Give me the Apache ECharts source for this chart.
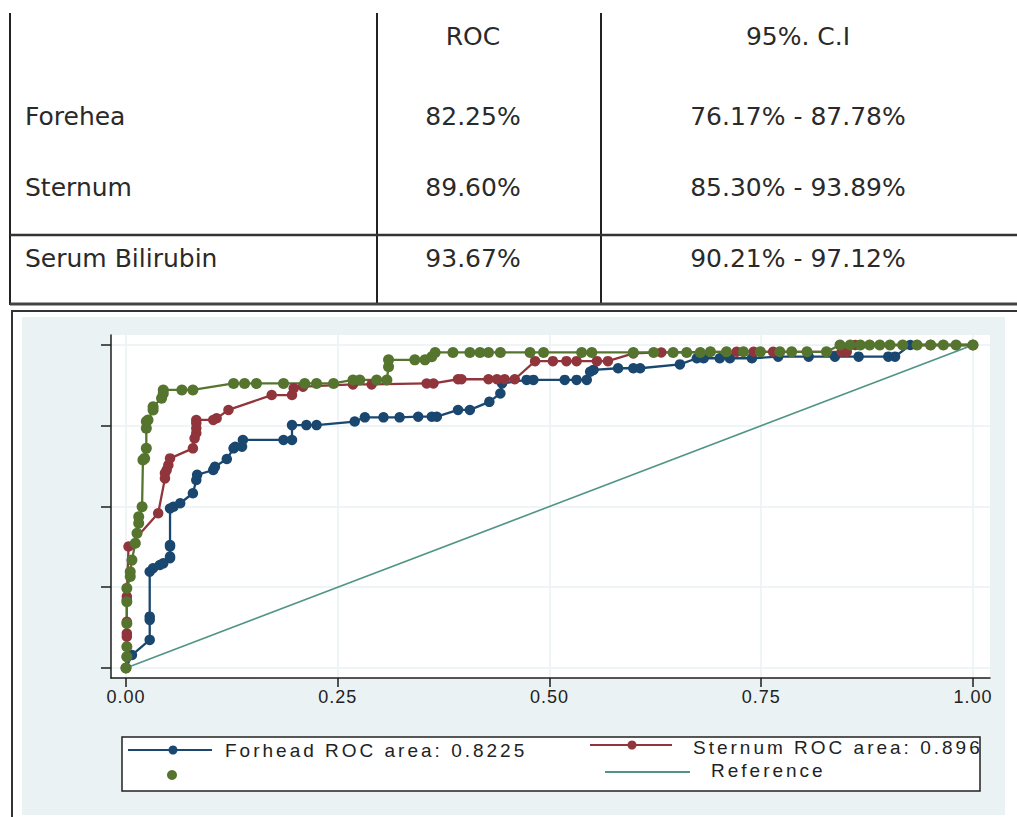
<!DOCTYPE html>
<html><head><meta charset="utf-8">
<script src="https://cdn.jsdelivr.net/npm/echarts@6/dist/echarts.min.js"></script>
<style>
html,body{margin:0;padding:0;background:#fff;}
#c{width:1017px;height:817px;}
#c text[style*="LegendF"]{letter-spacing:3px;}
#c text[style*="AxisF"]{letter-spacing:1px;}
</style></head><body><div id="c"></div>
<script>
// ---- table data ----
const tableHeaders = ['ROC', '95%. C.I'];
const tableSites = ['Forehea', 'Sternum', 'Serum Bilirubin'];
const tableRoc = ['82.25%', '89.60%', '93.67%'];
const tableCi = ['76.17% - 87.78%', '85.30% - 93.89%', '90.21% - 97.12%'];

// ---- legend labels ----
const legendForhead = 'Forhead ROC area: 0.8225';
const legendSternum = 'Sternum ROC area: 0.896';
const legendReference = 'Reference';

// ---- axis ticks ----
const xTicks = [0, 0.25, 0.5, 0.75, 1];
const yTicks = [0, 0.25, 0.5, 0.75, 1];

// ---- ROC curves [1-specificity, sensitivity] ----
const forheadPoints = [
  [0,0],[0.007,0.040],[0.028,0.087],[0.028,0.149],[0.028,0.159],[0.028,0.298],[0.032,0.309],[0.040,0.319],
  [0.044,0.324],[0.052,0.340],[0.052,0.345],[0.052,0.376],[0.052,0.381],[0.052,0.494],[0.056,0.499],[0.064,0.510],
  [0.079,0.541],[0.083,0.582],[0.084,0.598],[0.103,0.613],[0.105,0.623],[0.119,0.647],[0.127,0.680],[0.129,0.685],
  [0.137,0.685],[0.138,0.706],[0.186,0.706],[0.196,0.706],[0.196,0.752],[0.213,0.752],[0.225,0.752],[0.270,0.763],
  [0.282,0.776],[0.304,0.776],[0.323,0.776],[0.345,0.778],[0.361,0.778],[0.367,0.778],[0.392,0.799],[0.406,0.799],
  [0.429,0.824],[0.442,0.850],[0.444,0.881],[0.473,0.892],[0.481,0.892],[0.518,0.892],[0.532,0.892],[0.544,0.892],
  [0.548,0.917],[0.552,0.923],[0.581,0.928],[0.599,0.928],[0.607,0.928],[0.654,0.940],[0.674,0.959],[0.682,0.959],
  [0.701,0.959],[0.713,0.959],[0.739,0.959],[0.770,0.964],[0.806,0.964],[0.837,0.964],[0.865,0.964],[0.900,0.964],
  [0.908,0.964],[0.926,1],[1,1]
];
const sternumPoints = [
  [0,0],[0.001,0.035],[0.001,0.097],[0.001,0.107],[0.001,0.143],[0.001,0.211],[0.001,0.221],[0.003,0.376],
  [0.038,0.479],[0.046,0.587],[0.046,0.603],[0.048,0.613],[0.050,0.628],[0.052,0.649],[0.079,0.680],[0.081,0.711],
  [0.083,0.727],[0.083,0.742],[0.083,0.758],[0.083,0.768],[0.103,0.768],[0.107,0.773],[0.121,0.799],[0.172,0.845],
  [0.196,0.845],[0.198,0.866],[0.209,0.871],[0.268,0.878],[0.290,0.878],[0.355,0.881],[0.363,0.881],[0.392,0.894],
  [0.396,0.894],[0.428,0.894],[0.438,0.894],[0.447,0.894],[0.459,0.894],[0.483,0.950],[0.504,0.950],[0.520,0.950],
  [0.532,0.950],[0.556,0.950],[0.569,0.950],[0.599,0.974],[0.632,0.977],[0.721,0.979],[0.741,0.979],[0.764,0.979],
  [0.845,0.979],[0.851,0.979],[0.861,1],[0.950,1],[1,1]
];
const bilirubinPoints = [
  [0,0],[0.001,0.035],[0.001,0.066],[0.001,0.138],[0.001,0.205],[0.001,0.247],[0.005,0.283],[0.005,0.298],
  [0.007,0.334],[0.011,0.386],[0.013,0.417],[0.015,0.448],[0.015,0.468],[0.019,0.499],[0.020,0.644],[0.022,0.649],
  [0.024,0.680],[0.024,0.742],[0.024,0.763],[0.026,0.768],[0.032,0.799],[0.032,0.809],[0.042,0.835],[0.044,0.850],
  [0.044,0.861],[0.066,0.861],[0.079,0.861],[0.127,0.881],[0.140,0.881],[0.154,0.881],[0.186,0.881],[0.211,0.881],
  [0.225,0.881],[0.245,0.881],[0.268,0.892],[0.276,0.892],[0.296,0.892],[0.308,0.892],[0.310,0.933],[0.310,0.954],
  [0.341,0.954],[0.353,0.954],[0.361,0.964],[0.365,0.977],[0.386,0.977],[0.406,0.977],[0.418,0.977],[0.428,0.977],
  [0.442,0.977],[0.477,0.977],[0.493,0.977],[0.538,0.977],[0.550,0.977],[0.599,0.977],[0.623,0.977],[0.646,0.977],
  [0.662,0.977],[0.678,0.977],[0.690,0.979],[0.709,0.979],[0.729,0.979],[0.749,0.979],[0.772,0.979],[0.786,0.979],
  [0.804,0.979],[0.827,0.979],[0.843,1],[0.855,1],[0.867,1],[0.878,1],[0.890,1],[0.902,1],[0.917,1],[0.934,1],
  [0.950,1],[0.965,1],[0.980,1],[1,1]
];
const referencePoints = [[0,0],[1,1]];

// ---- styles ----
const C_BLUE = '#1a476f', C_RED = '#90353b', C_GREEN = '#55752f', C_TEAL = '#4f9585';
const GRID_C = '#eaf2f3', INK = '#1e1e1e';
const tableFont = {fontFamily: '"DejaVu Sans"', fontSize: 25, fill: '#2a2a2a'};
const legendFont = {fontFamily: 'LegendF, "Liberation Sans"', fontSize: 19, fill: '#222'};

const graphic = [];
// chart frame + grey region (behind plot)
graphic.push({type:'rect', z:-20, shape:{x:12,y:311,width:1020,height:520}, style:{fill:'#fff', stroke:'#333', lineWidth:2}});
graphic.push({type:'rect', z:-19, shape:{x:22,y:317,width:983,height:498}, style:{fill:GRID_C}});
// table lines
[[10,13,10,305],[377,13,377,305],[601,13,601,305]].forEach(s => graphic.push({type:'line', shape:{x1:s[0],y1:s[1],x2:s[2],y2:s[3]}, style:{stroke:'#222', lineWidth:2}}));
graphic.push({type:'line', shape:{x1:10,y1:235,x2:1017,y2:235}, style:{stroke:'#333', lineWidth:2.5}});
graphic.push({type:'line', shape:{x1:10,y1:304,x2:1017,y2:304}, style:{stroke:'#444', lineWidth:3}});
// table text
const colCenters = [473, 798];
tableHeaders.forEach((t,i) => graphic.push({type:'text', style:Object.assign({text:t, x:colCenters[i], y:36, textAlign:'center', textVerticalAlign:'middle'}, tableFont)}));
const rowY = [116, 187, 258];
tableSites.forEach((t,i) => {
  graphic.push({type:'text', style:Object.assign({text:t, x:25, y:rowY[i], textAlign:'left', textVerticalAlign:'middle'}, tableFont)});
  graphic.push({type:'text', style:Object.assign({text:tableRoc[i], x:colCenters[0], y:rowY[i], textAlign:'center', textVerticalAlign:'middle'}, tableFont)});
  graphic.push({type:'text', style:Object.assign({text:tableCi[i], x:colCenters[1], y:rowY[i], textAlign:'center', textVerticalAlign:'middle'}, tableFont)});
});
// legend box
graphic.push({type:'rect', shape:{x:122,y:737,width:858,height:54}, style:{fill:'#fff', stroke:'#222', lineWidth:1.5}});
graphic.push({type:'line', shape:{x1:128,y1:750,x2:212,y2:750}, style:{stroke:C_BLUE, lineWidth:2}});
graphic.push({type:'circle', shape:{cx:173,cy:750,r:4.5}, style:{fill:C_BLUE}});
graphic.push({type:'text', style:Object.assign({text:legendForhead, x:225, y:750, textAlign:'left', textVerticalAlign:'middle'}, legendFont)});
graphic.push({type:'line', shape:{x1:590,y1:745,x2:672,y2:745}, style:{stroke:C_RED, lineWidth:2}});
graphic.push({type:'circle', shape:{cx:632,cy:745,r:4.5}, style:{fill:C_RED}});
graphic.push({type:'text', z:5, style:Object.assign({text:legendSternum, x:693, y:747, textAlign:'left', textVerticalAlign:'middle'}, legendFont)});
graphic.push({type:'circle', shape:{cx:172,cy:775,r:5}, style:{fill:C_GREEN}});
graphic.push({type:'line', shape:{x1:605,y1:772,x2:690,y2:772}, style:{stroke:C_TEAL, lineWidth:2}});
graphic.push({type:'text', style:Object.assign({text:legendReference, x:711, y:770, textAlign:'left', textVerticalAlign:'middle'}, legendFont)});

function rocSeries(name, data, color, size) {
  return {
    type:'line', name, data, symbol:'circle', symbolSize:size, showSymbol:true, showAllSymbol:true,
    itemStyle:{color}, lineStyle:{color, width:2.3}, emphasis:{disabled:true}, animation:false, z:3
  };
}

const chart = echarts.init(document.getElementById('c'), null, {renderer:'svg', width:1017, height:817});
chart.setOption({
  animation:false,
  backgroundColor:'#fff',
  grid:{left:111, top:335, right:27, bottom:139, show:true, backgroundColor:'#fff', borderWidth:0, containLabel:false, outerBoundsMode:'none'},
  xAxis:{
    type:'value', min:-0.0177, max:1.0201,
    axisLine:{show:true, onZero:false, lineStyle:{color:INK, width:1.5}},
    axisTick:{show:true, customValues:xTicks, length:9, lineStyle:{color:INK, width:1.5}},
    axisLabel:{show:true, customValues:xTicks, formatter:v => v.toFixed(2), fontFamily:'AxisF, "Liberation Sans"', fontSize:18, color:'#222', margin:10},
    splitLine:{show:true, lineStyle:{color:GRID_C, width:1.5}}
  },
  yAxis:{
    type:'value', min:-0.031, max:1.031,
    axisLine:{show:true, onZero:false, lineStyle:{color:INK, width:1.5}},
    axisTick:{show:true, customValues:yTicks, length:10, lineStyle:{color:INK, width:1.5}},
    axisLabel:{show:false, customValues:yTicks},
    splitLine:{show:true, lineStyle:{color:GRID_C, width:1.5}}
  },
  series:[
    {type:'line', name:legendReference, data:referencePoints, showSymbol:false, symbol:'none', lineStyle:{color:C_TEAL, width:1.6}, itemStyle:{color:C_TEAL}, emphasis:{disabled:true}, z:2},
    rocSeries('Forhead', forheadPoints, C_BLUE, 10.5),
    rocSeries('Sternum', sternumPoints, C_RED, 10.5),
    rocSeries('Serum Bilirubin', bilirubinPoints, C_GREEN, 11)
  ],
  graphic:{elements:graphic}
});
</script></body></html>
